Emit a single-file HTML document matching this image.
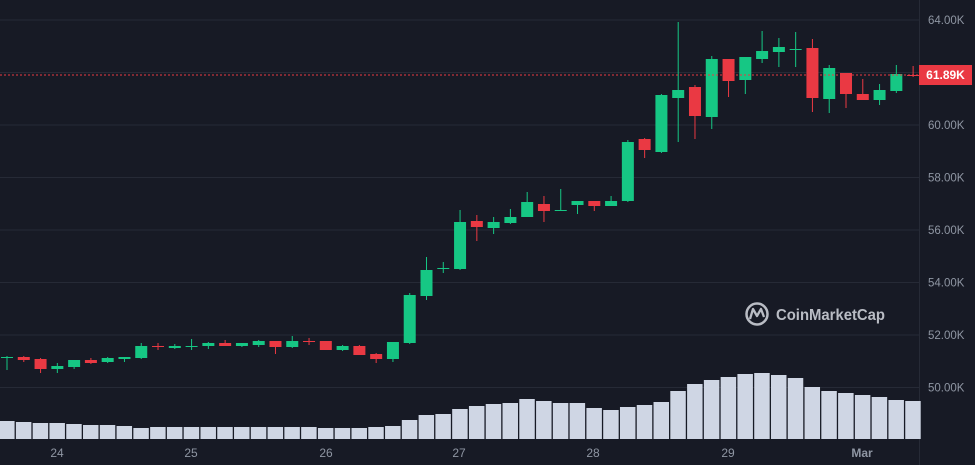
<!DOCTYPE html>
<html><head><meta charset="utf-8"><style>
html,body{margin:0;padding:0;background:#171a25;width:975px;height:465px;overflow:hidden}
svg{display:block}
text{font-family:"Liberation Sans",sans-serif}
</style></head><body>
<svg id="s" width="975" height="465" xmlns="http://www.w3.org/2000/svg">
<rect width="975" height="465" fill="#171a25"/>
<g id="grid" stroke="#262a36" stroke-width="1"></g>
<line x1="919.5" y1="0" x2="919.5" y2="465" stroke="#262a36"/>
<g id="vol"></g>
<g id="candles"></g>
<line x1="0" y1="75" x2="919" y2="75" stroke="#ea3943" stroke-width="1" stroke-dasharray="2,2"/>
<g fill="#8f96a3" font-size="11.5" id="ylab"></g>
<rect x="919" y="65" width="53" height="20" fill="#ea3943"/>
<text x="945.5" y="79" fill="#fff" font-size="12" font-weight="bold" text-anchor="middle">61.89K</text>
<g fill="#8f96a3" font-size="12" text-anchor="middle">
<text x="57" y="457">24</text><text x="191" y="457">25</text><text x="326" y="457">26</text>
<text x="459" y="457">27</text><text x="593" y="457">28</text><text x="728" y="457">29</text>
<text x="862" y="457" font-weight="bold">Mar</text></g>
<g opacity="0.85">
<circle cx="757" cy="314" r="10.5" fill="none" stroke="#d6d9e0" stroke-width="2.5"/>
<path d="M750 319 L753 309 L757 316 L761 309 L764 317" fill="none" stroke="#d6d9e0" stroke-width="2.3" stroke-linejoin="round"/>
<text x="776" y="320" fill="#d6d9e0" font-size="16" font-weight="bold" textLength="109" lengthAdjust="spacingAndGlyphs">CoinMarketCap</text>
</g>
</svg>
<script>
var NS="http://www.w3.org/2000/svg";
function el(p,t,a){var e=document.createElementNS(NS,t);for(var k in a)e.setAttribute(k,a[k]);document.getElementById(p).appendChild(e);return e;}
var gy=[20,72.5,125,177.5,230,282.5,335,387.5],lab=["64.00K","62.00K","60.00K","58.00K","56.00K","54.00K","52.00K","50.00K"];
gy.forEach(function(y,i){el("grid","line",{x1:0,x2:919,y1:y,y2:y});if(i!=1){var t=el("ylab","text",{x:928,y:y+4});t.textContent=lab[i];}});
var C=[
[358,357,356,370,'g'],[357,360,356,362,'r'],[359,369,358,373,'r'],[369,366,363,373,'g'],[367,360,360,369,'g'],
[360,363,358,364,'r'],[362,358,357,363,'g'],[359,357,357,362,'g'],[358,346,343,359,'g'],[346,347,343,350,'r'],
[348,346,344,349,'g'],[346,346,339,350,'g'],[346,343,342,349,'g'],[343,346,340,346,'r'],[346,343,343,347,'g'],
[345,341,340,347,'g'],[341,347,341,354,'r'],[347,341,336,348,'g'],[341,342,338,345,'r'],[341,350,341,350,'r'],
[350,346,345,351,'g'],[346,355,345,355,'r'],[354,359,353,363,'r'],[359,342,342,362,'g'],[343,295,293,344,'g'],
[296,270,257,300,'g'],[269,268,262,273,'g'],[269,222,210,270,'g'],[221,227,215,241,'r'],[228,222,217,234,'g'],
[223,217,209,224,'g'],[217,202,192,217,'g'],[204,211,196,222,'r'],[210,210,189,210,'g'],[205,201,201,214,'g'],
[201,206,201,211,'r'],[206,201,196,206,'g'],[201,142,140,202,'g'],[139,150,138,158,'r'],[152,95,94,153,'g'],
[98,90,22,142,'g'],[87,116,85,139,'r'],[117,59,56,129,'g'],[59,81,59,97,'r'],[80,57,57,94,'g'],
[59,51,31,63,'g'],[52,47,38,67,'g'],[49,49,32,67,'g'],[48,98,39,112,'r'],[99,68,65,113,'g'],
[73,94,73,108,'r'],[94,100,79,100,'r'],[100,90,84,105,'g'],[91,74,65,93,'g'],[75,76,66,77,'r']];
var V=[421,422,423,423,424,425,425,426,428,427,427,427,427,427,427,427,427,427,427,428,428,428,427,426,420,415,414,409,406,404,403,399,401,403,403,408,410,407,405,402,391,384,380,377,374,373,375,378,387,391,393,395,397,400,401];
var sp=16.78;
C.forEach(function(c,i){var x=7+i*sp;var col=c[4]=='g'?'#16c784':'#ea3943';
el("vol","rect",{x:x-sp/2+0.5,y:V[i],width:sp-1.3,height:439-V[i],fill:"#cfd6e4"});
el("candles","rect",{x:x-0.5,y:c[2],width:1,height:c[3]-c[2],fill:col});
var t=Math.min(c[0],c[1]),h=Math.max(1,Math.abs(c[0]-c[1]));
el("candles","rect",{x:x-6,y:t,width:12,height:h,fill:col});});
</script>
</body></html>
